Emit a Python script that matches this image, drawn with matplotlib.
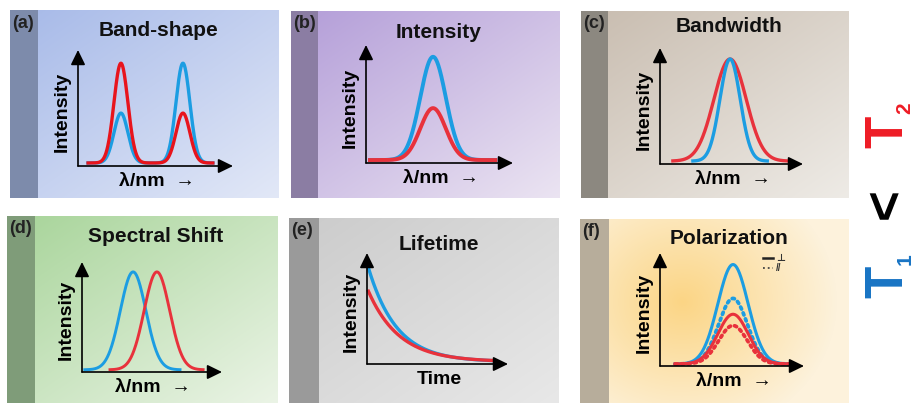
import numpy as np
import matplotlib
matplotlib.use("Agg")
from matplotlib import pyplot as plt
from matplotlib.lines import Line2D
from matplotlib.patches import Rectangle

plt.rcParams["font.family"] = ["Liberation Sans", "DejaVu Sans"]
plt.rcParams["font.weight"] = "bold"

BLUE = "#1c9de2"
RED = "#e8323c"

# ---- schematic peak parameters (axis units 0..10) ----
# (a) band-shape: two peaks whose heights swap
a_centers = [2.77, 6.77]
a_blue_heights = [4.3, 8.6]
a_red_heights = [8.6, 4.3]
a_sigma = 0.45
a_range = [0.65, 8.7]

# (b) intensity
b_center = 4.56
b_blue_height = 8.75
b_red_height = 4.4
b_sigma = 0.87
b_range = [0.27, 8.8]

# (c) bandwidth
c_center = 4.9
c_height = 8.8
c_blue_sigma = 0.71
c_red_sigma = 1.13
c_blue_range = [2.3, 7.5]
c_red_range = [0.9, 8.9]

# (d) spectral shift
d_blue_center = 3.65
d_red_center = 5.35
d_height = 8.9
d_sigma = 0.91
d_blue_range = [0.2, 7.0]
d_red_range = [2.0, 8.65]

# (e) lifetime decays
e_blue_amp, e_blue_tau = 8.9, 2.0
e_red_amp, e_red_tau = 6.65, 2.2
e_range = [0.1, 8.9]

# (f) polarization: solid = perpendicular, dotted = parallel
f_center = 5.07
f_blue_perp, f_blue_par = 8.8, 5.8
f_red_perp, f_red_par = 4.4, 3.4
f_sigma = 1.05
f_range = [1.05, 9.2]

W, H = 913, 404
fig = plt.figure(figsize=(W / 100, H / 100), dpi=100)


def px_rect(x0, y0, x1, y1):
    return [x0 / W, 1 - y1 / H, (x1 - x0) / W, (y1 - y0) / H]


def hexrgb(c):
    return np.array([int(c[i:i + 2], 16) for i in (1, 3, 5)]) / 255.0


def gauss(x, c, h, s, base):
    return base + h * np.exp(-0.5 * ((x - c) / s) ** 2)


def panel(rect, strip, c0, c1, strip_c, label, title, title_y, radial=None):
    ax = fig.add_axes(px_rect(*rect))
    w, h = int(rect[2] - rect[0]), int(rect[3] - rect[1])
    yy, xx = np.mgrid[0:1:h * 1j, 0:1:w * 1j]
    if radial:
        cx, cy, r = radial
        t = np.clip(np.hypot((xx - cx) * 1.3, yy - cy) / r, 0, 1)
    else:
        t = 0.5 * xx + 0.5 * yy
    img = hexrgb(c0) * (1 - t[..., None]) + hexrgb(c1) * t[..., None]
    ax.imshow(img, extent=(0, 1, 0, 1), aspect="auto", origin="upper")
    ax.add_patch(Rectangle((0, 0), strip / w, 1, color=strip_c, lw=0))
    ax.set_xlim(0, 1)
    ax.set_ylim(0, 1)
    ax.axis("off")
    fig.text((rect[0] + 2) / W, 1 - (rect[1] + 13) / H, label, fontsize=13,
             ha="left", va="center", color="#222222")
    xc = (rect[0] + strip + rect[2]) / 2
    fig.text(xc / W, 1 - title_y / H, title, fontsize=15, ha="center",
             va="center", color="#111111")


def plot_axes(origin, tip, xlabel="λ/nm  →"):
    ox, oy = origin
    tx, ty = tip
    ax = fig.add_axes(px_rect(ox, ty, tx, oy))
    ax.set_xlim(0, 10)
    ax.set_ylim(0, 10)
    ax.axis("off")
    ap = dict(arrowstyle="-|>,head_length=0.45,head_width=0.22", color="black",
              lw=1.2, mutation_scale=20, shrinkA=0, shrinkB=0)
    ax.annotate("", xy=(10, 0), xytext=(0, 0), arrowprops=ap)
    ax.annotate("", xy=(0, 10), xytext=(0, 0), arrowprops=ap)
    ax.annotate("Intensity", xy=(0, 0.47), xycoords="axes fraction",
                xytext=(-11, 0), textcoords="offset points", rotation=90,
                ha="center", va="center", fontsize=14)
    ax.annotate(xlabel, xy=(0.51, 0), xycoords="axes fraction",
                xytext=(0, -11.5), textcoords="offset points",
                ha="center", va="center", fontsize=14)
    return ax


LW = 2.4

# (a)
panel((10, 10, 278, 198), 28, "#a6b9e8", "#e2e8f7", "#7d8bab", "(a)", "Band-shape", 30)
ax = plot_axes((78, 166), (233, 50))
x = np.linspace(*a_range, 400)
yb = sum(gauss(x, c, h, a_sigma, 0) for c, h in zip(a_centers, a_blue_heights)) + 0.26
yr = sum(gauss(x, c, h, a_sigma, 0) for c, h in zip(a_centers, a_red_heights)) + 0.26
ax.plot(x, yb, color=BLUE, lw=LW, clip_on=False)
ax.plot(x, yr, color="#e8141c", lw=LW, clip_on=False)

# (b)
panel((291, 11, 559, 198), 27, "#b39dd8", "#ebe4f2", "#8b7da3", "(b)", "Intensity", 32)
ax = plot_axes((366, 163), (513, 45))
x = np.linspace(*b_range, 400)
ax.plot(x, gauss(x, b_center, b_blue_height, b_sigma, 0.25), color=BLUE, lw=LW + 0.4, clip_on=False)
ax.plot(x, gauss(x, b_center, b_red_height, b_sigma, 0.25), color=RED, lw=LW + 0.4, clip_on=False)

# (c)
panel((581, 11, 849, 198), 27, "#c8bcaf", "#eeebe6", "#8c8880", "(c)", "Bandwidth", 27)
ax = plot_axes((660, 164), (803, 48))
x = np.linspace(*c_red_range, 400)
ax.plot(x, gauss(x, c_center, c_height, c_red_sigma, 0.25), color=RED, lw=LW, clip_on=False)
x = np.linspace(*c_blue_range, 400)
ax.plot(x, gauss(x, c_center, c_height, c_blue_sigma, 0.25), color=BLUE, lw=LW, clip_on=False)

# (d)
panel((7, 216, 277, 403), 28, "#a7d499", "#ebf4e6", "#7f9c79", "(d)", "Spectral Shift", 237)
ax = plot_axes((82, 372), (222, 262))
x = np.linspace(*d_blue_range, 400)
ax.plot(x, gauss(x, d_blue_center, d_height, d_sigma, 0.2), color=BLUE, lw=LW - 0.3, clip_on=False)
x = np.linspace(*d_red_range, 400)
ax.plot(x, gauss(x, d_red_center, d_height, d_sigma, 0.2), color=RED, lw=LW - 0.3, clip_on=False)

# (e)
panel((289, 218, 558, 403), 30, "#cbcbcb", "#e8e8e8", "#9a9a9a", "(e)", "Lifetime", 245)
ax = plot_axes((367, 364), (508, 253), xlabel="Time")
x = np.linspace(*e_range, 400)
ax.plot(x, 0.2 + e_blue_amp * np.exp(-x / e_blue_tau), color=BLUE, lw=LW, clip_on=False)
ax.plot(x, 0.2 + e_red_amp * np.exp(-x / e_red_tau), color=RED, lw=LW, clip_on=False)

# (f)
panel((580, 219, 849, 403), 29, "#fbd585", "#fdf2dc", "#b7ad9b", "(f)", "Polarization", 239,
      radial=(0.38, 0.45, 0.75))
ax = plot_axes((660, 366), (804, 253))
x = np.linspace(*f_range, 400)
dots = dict(ls=(0, (0.6, 1.1)), dash_capstyle="round", lw=LW + 0.3, clip_on=False)
ax.plot(x, gauss(x, f_center, f_blue_perp, f_sigma, 0.18), color=BLUE, lw=LW - 0.2, clip_on=False)
ax.plot(x, gauss(x, f_center, f_blue_par, f_sigma * 0.95, 0.18), color=BLUE, **dots)
ax.plot(x, gauss(x, f_center, f_red_perp, f_sigma, 0.18), color=RED, lw=LW - 0.2, clip_on=False)
ax.plot(x, gauss(x, f_center, f_red_par, f_sigma * 0.95, 0.18), color=RED, **dots)
handles = [Line2D([], [], color="#222222", lw=1.8),
           Line2D([], [], color="#444444", lw=1.3, ls=":")]
ax.legend(handles, ["⊥", "//"], loc="upper left", bbox_to_anchor=(0.68, 1.04),
          frameon=False, fontsize=7, handlelength=1.1, handletextpad=0.3,
          labelspacing=0.0, borderpad=0, labelcolor="#333333")

# T1 < T2 on the right, reading upwards
fig.text(888 / W, 1 - 132 / H, "T", color="#ee1c25", fontsize=38, rotation=90, ha="center", va="center")
fig.text(905 / W, 1 - 108 / H, "2", color="#ee1c25", fontsize=15, rotation=90, ha="center", va="center")
fig.text(887 / W, 1 - 204 / H, "<", color="black", fontsize=38, rotation=90, ha="center", va="center")
fig.text(888 / W, 1 - 282 / H, "T", color="#1874c4", fontsize=38, rotation=90, ha="center", va="center")
fig.text(905 / W, 1 - 259 / H, "1", color="#1874c4", fontsize=15, rotation=90, ha="center", va="center")

fig.savefig("out.png", dpi=100)
